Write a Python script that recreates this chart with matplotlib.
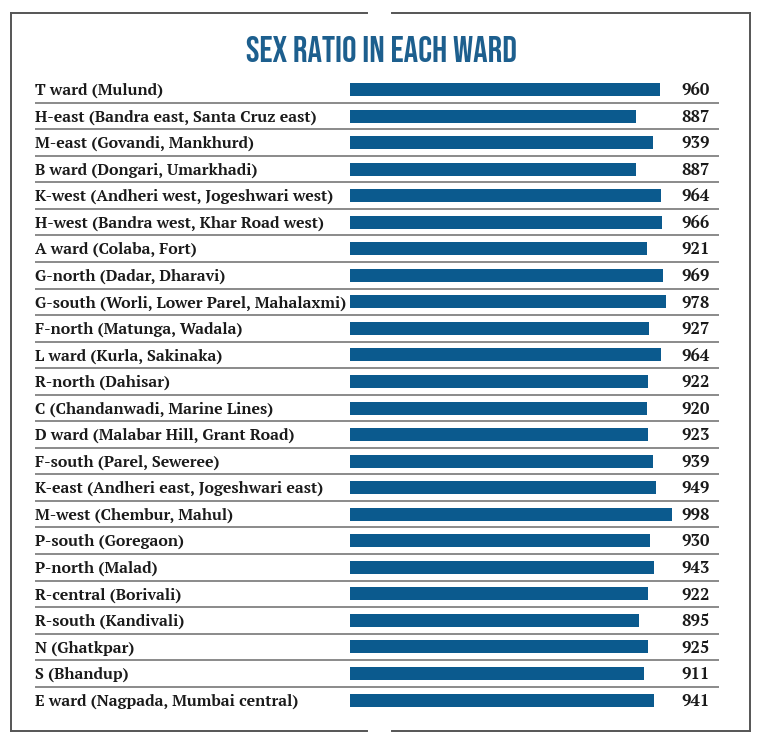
import matplotlib.pyplot as plt
from matplotlib.lines import Line2D

# ward names and sex ratio (females per 1000 males)
wards = ['T ward (Mulund)', 'H-east (Bandra east, Santa Cruz east)',
         'M-east (Govandi, Mankhurd)', 'B ward (Dongari, Umarkhadi)',
         'K-west (Andheri west, Jogeshwari west)', 'H-west (Bandra west, Khar Road west)',
         'A ward (Colaba, Fort)', 'G-north (Dadar, Dharavi)',
         'G-south (Worli, Lower Parel, Mahalaxmi)', 'F-north (Matunga, Wadala)',
         'L ward (Kurla, Sakinaka)', 'R-north (Dahisar)',
         'C (Chandanwadi, Marine Lines)', 'D ward (Malabar Hill, Grant Road)',
         'F-south (Parel, Seweree)', 'K-east (Andheri east, Jogeshwari east)',
         'M-west (Chembur, Mahul)', 'P-south (Goregaon)', 'P-north (Malad)',
         'R-central (Borivali)', 'R-south (Kandivali)', 'N (Ghatkpar)',
         'S (Bhandup)', 'E ward (Nagpada, Mumbai central)']
ratio = [960, 887, 939, 887, 964, 966, 921, 969, 978, 927, 964, 922,
         920, 923, 939, 949, 998, 930, 943, 922, 895, 925, 911, 941]
title = 'SEX RATIO IN EACH WARD'

W, H = 759, 743
blue = '#0b5a8e'
serif = ['PT Serif', 'Liberation Serif', 'DejaVu Serif']
fig = plt.figure(figsize=(W / 100, H / 100), dpi=100)

# axes spans label column to value column; x=0 sits at 350px
left_px, right_px, zero_px = 35, 719, 350
scale = 0.3227  # px per unit
top_px, bot_px = 76.2, 713.3
ax = fig.add_axes([left_px / W, 1 - bot_px / H, (right_px - left_px) / W, (bot_px - top_px) / H])
ax.set_xlim(-(zero_px - left_px) / scale, (right_px - zero_px) / scale)
ax.set_ylim(len(wards) - 0.5, -0.5)
ax.axis('off')

ypos = range(len(wards))
ax.barh(ypos, ratio, height=0.49, color=blue, left=0)

label_x = -(zero_px - left_px) / scale
value_x = (710 - zero_px) / scale
for i, (name, v) in enumerate(zip(wards, ratio)):
    ax.text(label_x, i + 0.04, name, ha='left', va='center', fontsize=11.4,
            family=serif, weight='bold', color='#1a1a1a')
    ax.text(value_x, i + 0.04, str(v), ha='right', va='center', fontsize=12,
            family=serif, weight='bold', color='#1a1a1a')
for i in range(len(wards) - 1):
    ax.axhline(i + 0.5, color='#6b6b6b', lw=1.1, zorder=0)

fig.text(381 / W, 1 - 49 / H, title, ha='center', va='center', fontsize=26,
         family=['Bebas Neue', 'Oswald', 'DejaVu Sans'],
         weight='bold', color='#1d5f8e')

# frame with small gaps top and bottom
fc = '#555555'
for seg in [((10.5, 366.5), (13, 13)), ((392, 750), (13, 13)),
            ((10.5, 366.5), (730.5, 730.5)), ((392, 750), (730.5, 730.5)),
            ((10.5, 10.5), (13, 730.5)), ((750, 750), (13, 730.5))]:
    xs = [p / W for p in seg[0]]
    ys = [1 - p / H for p in seg[1]]
    fig.add_artist(Line2D(xs, ys, color=fc, lw=1.4))

plt.savefig('out.png', dpi=100)
